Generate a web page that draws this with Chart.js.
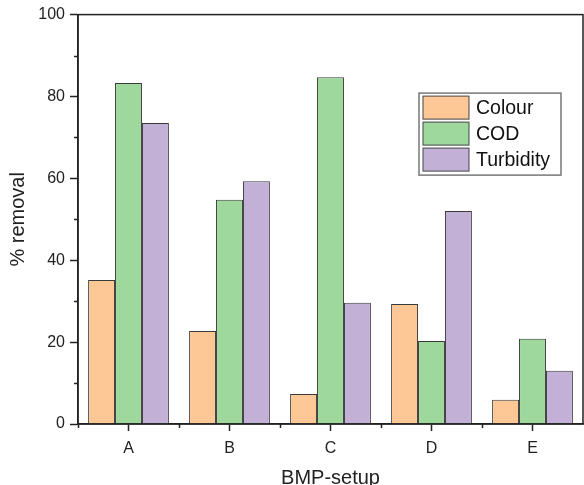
<!DOCTYPE html>
<html>
<head>
<meta charset="utf-8">
<script src="https://cdn.jsdelivr.net/npm/chart.js@4"></script>
<style>
    html, body { margin: 0; padding: 0; background: #ffffff; }
    #wrap { width: 584px; height: 485px; }
</style>
</head>
<body>
<div id="wrap"><canvas id="barChart" width="584" height="485"></canvas></div>
<script>
// Data
const setups = ['A', 'B', 'C', 'D', 'E'];
const colourRemoval = [35.2, 22.7, 7.3, 29.3, 5.9];
const codRemoval = [83.3, 54.8, 84.7, 20.3, 20.8];
const turbidityRemoval = [73.5, 59.3, 29.6, 52.0, 13.0];
const yTicks = [0, 20, 40, 60, 80, 100];
const yMinorTicks = [10, 30, 50, 70, 90];

const FONT = 'Arial, "Liberation Sans", sans-serif';

// Frame, minor ticks and legend box drawn on top of the chart
const framePlugin = {
    id: 'frame',
    afterDraw(chart) {
        const ctx = chart.ctx;
        const a = chart.chartArea;
        const x = chart.scales.x;
        const y = chart.scales.y;
        ctx.save();

        // box around plot
        ctx.strokeStyle = '#222';
        ctx.lineWidth = 1.5;
        ctx.strokeRect(a.left, a.top, a.right - a.left, a.bottom - a.top);

        // minor ticks on y
        ctx.beginPath();
        yMinorTicks.forEach(v => {
            const py = Math.round(y.getPixelForValue(v)) + 0.5;
            ctx.moveTo(a.left, py);
            ctx.lineTo(a.left - 4, py);
        });
        // minor ticks on x (between categories)
        for (let i = 0; i < setups.length; i++) {
            const px = Math.round(x.getPixelForValue(i - 0.5)) + 0.5;
            ctx.moveTo(px, a.bottom);
            ctx.lineTo(px, a.bottom + 4);
        }
        ctx.stroke();

        // legend
        const lx = a.left + 341, ly = a.top + 78.5;
        const boxW = 142, rowH = 26;
        ctx.strokeStyle = '#777';
        ctx.lineWidth = 1.5;
        ctx.strokeRect(lx, ly, boxW, rowH * 3 + 4);
        ctx.font = '19.5px ' + FONT;
        ctx.textBaseline = 'middle';
        chart.data.datasets.forEach((ds, i) => {
            const ry = ly + 3 + i * rowH;
            ctx.fillStyle = ds.backgroundColor;
            ctx.fillRect(lx + 4, ry, 46, 23);
            ctx.strokeStyle = '#444';
            ctx.lineWidth = 1;
            ctx.strokeRect(lx + 4, ry, 46, 23);
            ctx.fillStyle = '#111';
            ctx.fillText(ds.label, lx + 57, ry + 12.5);
        });
        ctx.restore();
    }
};

function makeDataset(label, data, color) {
    return {
        label: label,
        data: data,
        backgroundColor: color,
        borderColor: '#3a3a3a',
        borderWidth: 1,
        categoryPercentage: 0.8,
        barPercentage: 1.0
    };
}

const ctx = document.getElementById('barChart').getContext('2d');
new Chart(ctx, {
    type: 'bar',
    data: {
        labels: setups,
        datasets: [
            makeDataset('Colour', colourRemoval, '#fdc896'),
            makeDataset('COD', codRemoval, '#9fd89c'),
            makeDataset('Turbidity', turbidityRemoval, '#c2b0d6')
        ]
    },
    options: {
        responsive: false,
        animation: false,
        layout: { padding: { top: 14, right: 1, left: 0, bottom: 0 } },
        plugins: {
            legend: { display: false },
            tooltip: { enabled: false }
        },
        scales: {
            x: {
                grid: {
                    offset: false,
                    drawOnChartArea: false,
                    tickLength: 7,
                    tickWidth: 1.5,
                    color: '#222'
                },
                border: { display: true, color: '#222', width: 1.5 },
                ticks: {
                    color: '#222',
                    font: { family: FONT, size: 16 },
                    padding: 8
                },
                title: {
                    display: true,
                    text: 'BMP-setup',
                    color: '#222',
                    font: { family: FONT, size: 20 },
                    padding: { top: 0, bottom: -5 }
                },
                afterFit(scale) { scale.height = 61; }
            },
            y: {
                min: 0,
                max: 100,
                afterBuildTicks(scale) {
                    scale.ticks = yTicks.map(v => ({ value: v }));
                },
                grid: {
                    drawOnChartArea: false,
                    tickLength: 8,
                    tickWidth: 1.5,
                    color: '#222'
                },
                border: { display: true, color: '#222', width: 1.5 },
                ticks: {
                    color: '#222',
                    font: { family: FONT, size: 16 },
                    padding: 5
                },
                title: {
                    display: true,
                    text: '% removal',
                    color: '#222',
                    font: { family: FONT, size: 20 },
                    padding: { top: 6, bottom: 0 }
                },
                afterFit(scale) { scale.width = 78; }
            }
        }
    },
    plugins: [framePlugin]
});
</script>
</body>
</html>
